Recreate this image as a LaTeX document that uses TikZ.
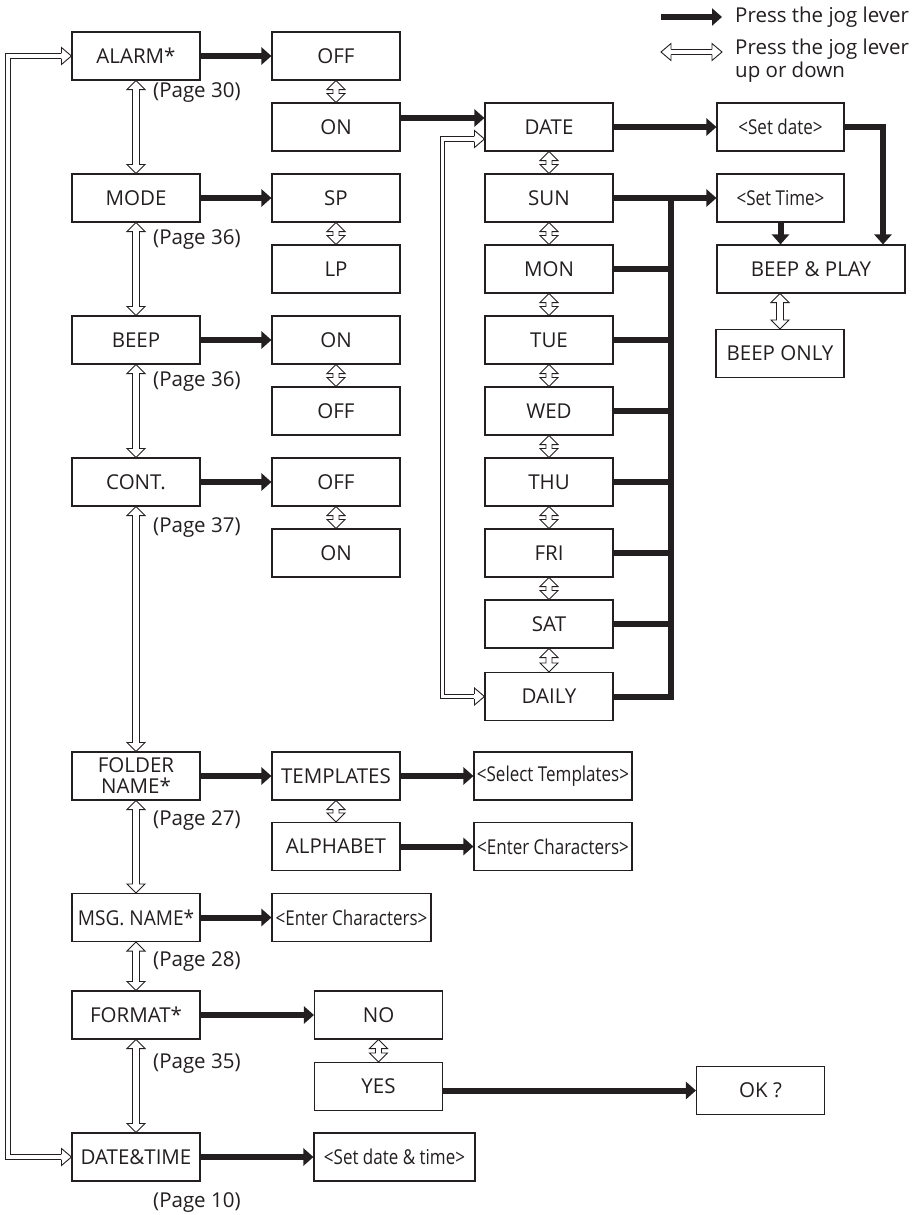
\documentclass[tikz,border=0pt]{standalone}
\usepackage{fontspec}
\setmainfont{Open Sans}
\usepackage{graphicx}
\usetikzlibrary{arrows.meta,calc}
\definecolor{ink}{HTML}{231F20}
\tikzset{
  box/.style={draw=ink, line width=1.1pt, minimum width=128pt, minimum height=48pt, inner sep=0pt, text=ink, font=\fontsize{20.5}{21}\selectfont, align=center},
  press/.style={draw=ink, line width=6pt, -{Triangle[length=10pt,width=17pt]}},
  busline/.style={draw=ink, line width=6pt},
  hol/.style={draw=ink, line width=0.9pt, fill=white, line join=miter},
  dline/.style={draw=ink, line width=0.9pt, double=white, double distance=3.6pt},
  headline/.style={draw=ink, line width=0.9pt, line join=miter},
  pg/.style={anchor=west, text=ink, font=\fontsize{20.5}{22}\selectfont, inner sep=0pt},
  legend/.style={anchor=west, text=ink, font=\fontsize{20.5}{23}\selectfont, inner sep=0pt, align=left},
}
\newcommand\cond[1]{\scalebox{0.83}[1]{#1}}
% vertical hollow double arrow: #2 top point, #3 bottom point
\newcommand\vhol[3][3.5]{%
  \path[hol] let \p1=(#2), \p2=(#3) in
    (\x1,\y1) -- (\x1+9pt,\y1-9pt) -- (\x1+#1pt,\y1-9pt) -- (\x1+#1pt,\y2+9pt)
    -- (\x1+9pt,\y2+9pt) -- (\x1,\y2) -- (\x1-9pt,\y2+9pt) -- (\x1-#1pt,\y2+9pt)
    -- (\x1-#1pt,\y1-9pt) -- (\x1-9pt,\y1-9pt) -- cycle;}
% right-pointing hollow head with tip at #1
\newcommand\rhead[1]{%
  \fill[white] let \p1=(#1) in (\x1,\y1) -- (\x1-10pt,\y1+8.5pt) -- (\x1-10pt,\y1-8.5pt) -- cycle;
  \path[headline] let \p1=(#1) in (\x1-10pt,\y1+2.7pt) -- (\x1-10pt,\y1+8.5pt) -- (\x1,\y1)
    -- (\x1-10pt,\y1-8.5pt) -- (\x1-10pt,\y1-2.7pt);}
% left-pointing hollow head with tip at #1
\newcommand\lhead[1]{%
  \fill[white] let \p1=(#1) in (\x1,\y1) -- (\x1+10pt,\y1+8.5pt) -- (\x1+10pt,\y1-8.5pt) -- cycle;
  \path[headline] let \p1=(#1) in (\x1+10pt,\y1+2.7pt) -- (\x1+10pt,\y1+8.5pt) -- (\x1,\y1)
    -- (\x1+10pt,\y1-8.5pt) -- (\x1+10pt,\y1-2.7pt);}
\begin{document}
\begin{tikzpicture}[x=1pt,y=-1pt]
\useasboundingbox[fill=white] (0,0) rectangle (912,1215);

% legend
\coordinate (k1) at (661,17);
\coordinate (k2) at (722,17);
\coordinate (k3) at (661,52);
\coordinate (k4) at (722,52);
\draw[press] (k1) -- (k2);
\draw[dline] ($(k3)+(10,0)$) -- ($(k4)+(-10,0)$);
\rhead{k4}
\lhead{k3}
\node[legend] (lg1) at (735,17) {Press the jog lever};
\node[legend] (lg2) at (735,61) {Press the jog lever\\up or down};

% column 1
\node[box] (alarm) at (136,56) {ALARM*};
\node[box] (mode) at (136,198) {MODE};
\node[box] (beep) at (136,340) {BEEP};
\node[box] (cont) at (136,482) {CONT.};
\node[box] (folder) at (136,776) {FOLDER\\NAME*};
\node[box] (msg) at (136,917.5) {\scalebox{0.93}[1]{MSG. NAME*}};
\node[box] (format) at (136,1015) {FORMAT*};
\node[box] (datetime) at (136,1157) {DATE\&TIME};

\node[pg] (p1) at (153,93) {(Page 30)};
\node[pg] (p2) at (153,240) {(Page 36)};
\node[pg] (p3) at (153,382) {(Page 36)};
\node[pg] (p4) at (153,528) {(Page 37)};
\node[pg] (p5) at (153,821) {(Page 27)};
\node[pg] (p6) at (153,962) {(Page 28)};
\node[pg] (p7) at (153,1064) {(Page 35)};
\node[pg] (p8) at (153,1203) {(Page 10)};

% column 2
\node[box] (off1) at (336,56) {OFF};
\node[box] (on1) at (336,127) {ON};
\node[box] (sp) at (336,198) {SP};
\node[box] (lp) at (336,269) {LP};
\node[box] (on2) at (336,340) {ON};
\node[box] (off2) at (336,411) {OFF};
\node[box] (off3) at (336,482) {OFF};
\node[box] (on3) at (336,553) {ON};
\node[box] (templates) at (336,776) {TEMPLATES};
\node[box] (alphabet) at (336,846.5) {ALPHABET};
\node[box, minimum width=159pt] (msgchars) at (351.5,917.5) {\cond{<Enter Characters>}};
\node[box, minimum width=158pt] (seltemp) at (553,776) {\cond{<Select Templates>}};
\node[box, minimum width=158pt] (entchars) at (553,846.5) {\cond{<Enter Characters>}};
\node[box] (no) at (378.5,1015) {NO};
\node[box] (yes) at (378.5,1086.5) {YES};
\node[box] (ok) at (760.5,1090.5) {OK ?};
\node[box, minimum width=161pt] (setdt) at (394.5,1157) {\cond{<Set date \& time>}};

% column 3
\node[box] (date) at (549,127) {DATE};
\node[box] (sun) at (549,198) {SUN};
\node[box] (mon) at (549,269) {MON};
\node[box] (tue) at (549,340) {TUE};
\node[box] (wed) at (549,411) {WED};
\node[box] (thu) at (549,482) {THU};
\node[box] (fri) at (549,553) {FRI};
\node[box] (sat) at (549,624) {SAT};
\node[box] (daily) at (549,696.5) {DAILY};

% column 4
\node[box, minimum width=127pt] (setdate) at (780.5,127) {\cond{<Set date>}};
\node[box, minimum width=127pt] (settime) at (780.5,198) {\cond{<Set Time>}};
\node[box, minimum width=188pt] (beepplay) at (811,269) {BEEP \& PLAY};
\node[box] (beeponly) at (780,353.5) {BEEP ONLY};

% thick arrows
\draw[press] (alarm.east) -- (off1.west);
\draw[press] (mode.east) -- (sp.west);
\draw[press] (beep.east) -- (on2.west);
\draw[press] (cont.east) -- (off3.west);
\draw[press] (folder.east) -- (templates.west);
\draw[press] (templates.east) -- (seltemp.west);
\draw[press] (alphabet.east) -- (entchars.west);
\draw[press] (msg.east) -- (msgchars.west);
\draw[press] (format.east) -- (no.west);
\draw[press] (yes.east |- ok.west) -- (ok.west);
\draw[press] (datetime.east) -- (setdt.west);
\draw[press] ($(on1.east)+(0,-9)$) -- ($(date.west)+(0,-9)$);
\draw[press] (date.east) -- (setdate.west);
\draw[press] (setdate.east) -| ($(beepplay.north)+(72,0)$);
\draw[press] (settime.south) -- (settime.south |- beepplay.north);

% bus from days to <Set Time>
\coordinate (bx) at (671,400);
\draw[busline] (mon.east) -- (mon.east -| bx);
\draw[busline] (tue.east) -- (tue.east -| bx);
\draw[busline] (wed.east) -- (wed.east -| bx);
\draw[busline] (thu.east) -- (thu.east -| bx);
\draw[busline] (fri.east) -- (fri.east -| bx);
\draw[busline] (sat.east) -- (sat.east -| bx);
\draw[busline] (daily.east) -| (sun.east -| bx);
\draw[press] (sun.east) -- (settime.west);

% hollow loops
\coordinate (olx) at (8,600);
\draw[dline] ($(alarm.west)+(-10,0)$) -| (olx) |- ($(datetime.west)+(-10,0)$);
\rhead{alarm.west}
\rhead{datetime.west}
\coordinate (ilx) at (442.5,400);
\draw[dline] ($(date.west)+(-10,12)$) -| (ilx) |- ($(daily.west)+(-10,0)$);
\rhead{$(date.west)+(0,12)$}
\rhead{daily.west}

% vertical hollow arrows, column 1
\vhol{alarm.south}{mode.north}
\vhol{mode.south}{beep.north}
\vhol{beep.south}{cont.north}
\vhol{cont.south}{folder.north}
\vhol{folder.south}{msg.north}
\vhol{msg.south}{format.north}
\vhol{format.south}{datetime.north}

% small hollow arrows
\vhol[3]{off1.south}{on1.north}
\vhol[3]{sp.south}{lp.north}
\vhol[3]{on2.south}{off2.north}
\vhol[3]{off3.south}{on3.north}
\vhol[3]{templates.south}{alphabet.north}
\vhol[3]{no.south}{yes.north}
\vhol[3]{date.south}{sun.north}
\vhol[3]{sun.south}{mon.north}
\vhol[3]{mon.south}{tue.north}
\vhol[3]{tue.south}{wed.north}
\vhol[3]{wed.south}{thu.north}
\vhol[3]{thu.south}{fri.north}
\vhol[3]{fri.south}{sat.north}
\vhol[3]{sat.south}{daily.north}
\vhol{beeponly.north |- beepplay.south}{beeponly.north}
\end{tikzpicture}
\end{document}
